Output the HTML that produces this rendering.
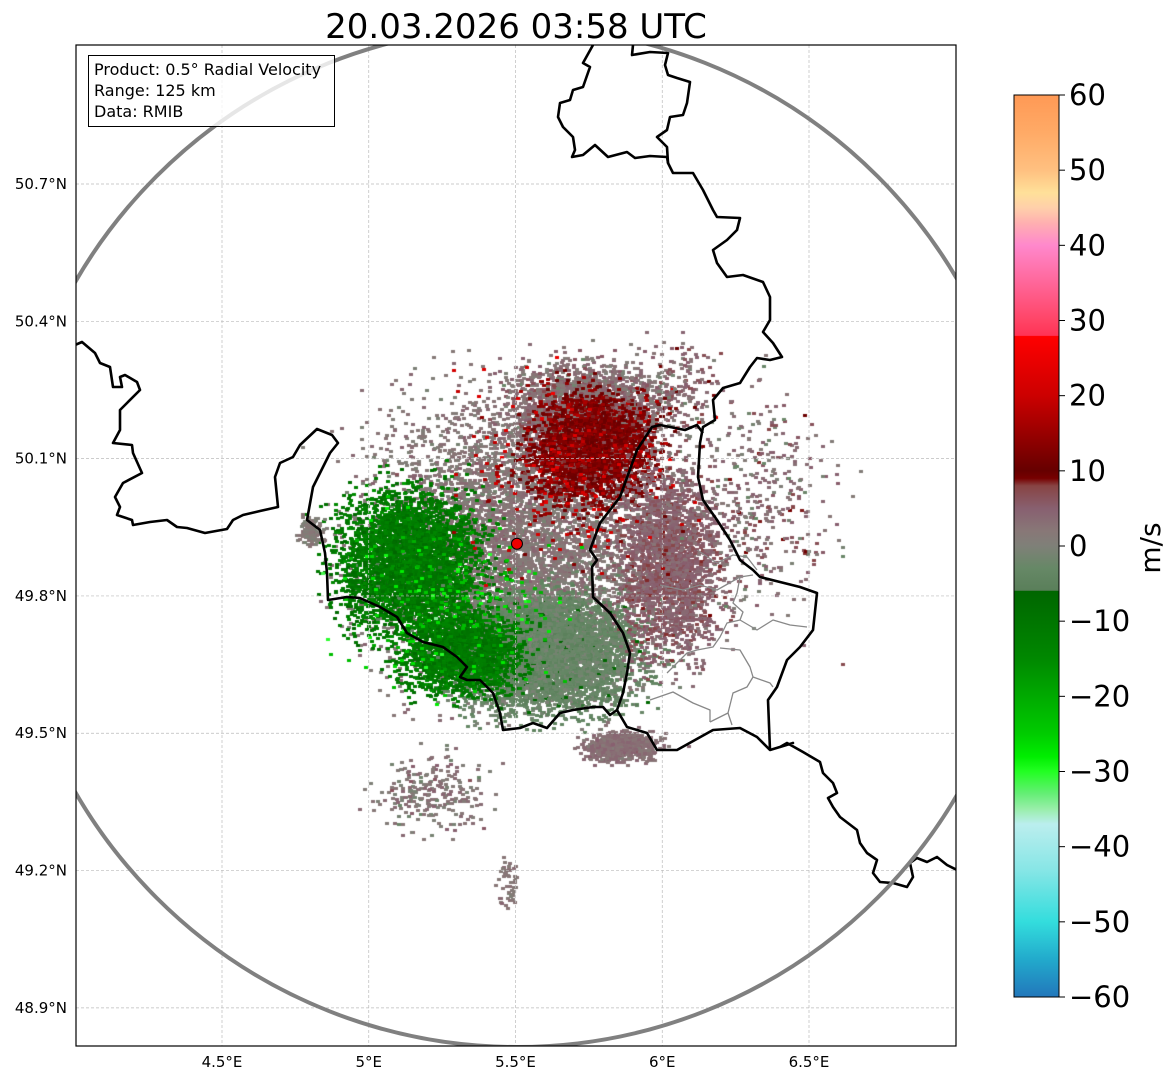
<!DOCTYPE html>
<html><head><meta charset="utf-8">
<style>
html,body{margin:0;padding:0;background:#fff;}
body{width:1171px;height:1081px;position:relative;overflow:hidden;font-family:"DejaVu Sans","Liberation Sans",sans-serif;}
#radar{position:absolute;left:0;top:0;}
svg{position:absolute;left:0;top:0;}
</style></head>
<body>
<canvas id="radar" width="1171" height="1081"></canvas>
<svg id="ov" width="1171" height="1081"></svg>
<script>
// ---- chart data ----
const lonTicks = [4.5, 5.0, 5.5, 6.0, 6.5];
const lonLabels = ["4.5°E", "5°E", "5.5°E", "6°E", "6.5°E"];
const latTicks = [48.9, 49.2, 49.5, 49.8, 50.1, 50.4, 50.7];
const latLabels = ["48.9°N", "49.2°N", "49.5°N", "49.8°N", "50.1°N", "50.4°N", "50.7°N"];
const cbTicks = [-60, -50, -40, -30, -20, -10, 0, 10, 20, 30, 40, 50, 60];
const cbLabels = ["−60", "−50", "−40", "−30", "−20", "−10", "0", "10", "20", "30", "40", "50", "60"];
// echo clusters: centre, spread (deg), pixel count, mean radial velocity (m/s), velocity spread
const clusterLon = [5.510, 5.600, 5.753, 5.753, 5.140, 5.310, 6.026, 5.856, 6.333, 5.208, 5.464, 4.800, 5.276, 5.685, 6.060];
const clusterLat = [49.920, 49.682, 50.206, 50.130, 49.878, 49.682, 49.878, 49.474, 50.010, 49.376, 49.179, 49.944, 49.791, 50.075, 50.272];
const clusterSx  = [0.50, 0.31, 0.27, 0.20, 0.24, 0.20, 0.17, 0.12, 0.24, 0.18, 0.034, 0.04, 0.37, 0.37, 0.14];
const clusterSy  = [0.30, 0.13, 0.10, 0.12, 0.15, 0.09, 0.20, 0.033, 0.24, 0.09, 0.055, 0.033, 0.17, 0.20, 0.09];
const clusterN   = [15000, 5000, 2500, 2500, 3800, 2000, 2500, 700, 400, 250, 50, 120, 200, 250, 150];
const clusterVel = [2, -3, 3, 12, -11, -11, 5, 3, 3, 2, 2, 1, -24, 18, 4];
const clusterJit = [1.5, 1.5, 2, 2.5, 2.5, 2.5, 1.5, 1, 3, 2, 1, 1, 4, 4, 3];
const radarLon = 5.505, radarLat = 49.914;
// colormap stops (value, colour)
const cmapVals = [-60,-55,-50,-43,-37,-35,-33,-30,-28,-25,-20,-15,-6,-5.9,-3,0,2,5,8,9,10,15,20,27.9,28,30,35,40,43,45,47,50,55,60];
const cmapCols = ["#2277bb","#22aacc","#33dddd","#88e6e6","#bbeeee","#99eeaa","#66ee77","#22ff22","#00ee00","#00cc00","#00aa00","#008800","#006600","#5a7f5a","#668866","#7f8078","#887777","#886070","#884444","#770000","#660000","#990000","#cc0000","#ff0000","#ff3355","#ff4466","#ff6699","#ff88cc","#ffb0b0","#ffd0aa","#ffe099","#ffc080","#ffaa66","#ff9955"];

// ---- axes ----
const PL=76, PR=956, PT=45, PB=1046;
const xOf = lon => 75.25 + (lon-4.0)*293.5;
const yOf = lat => 184 + (50.7-lat)*457.7;
const CBT=95, CBB=997, CBL=1014, CBR=1059;
const cbY = v => CBB - (v+60)/120*(CBB-CBT);

function hex(c){return [parseInt(c.substr(1,2),16),parseInt(c.substr(3,2),16),parseInt(c.substr(5,2),16)];}
function colorOf(v){
  if(v<=cmapVals[0]) return cmapCols[0];
  for(let i=1;i<cmapVals.length;i++){
    if(v<=cmapVals[i]){
      const t=(v-cmapVals[i-1])/(cmapVals[i]-cmapVals[i-1]);
      const a=hex(cmapCols[i-1]), b=hex(cmapCols[i]);
      return "rgb("+a.map((x,k)=>Math.round(x+(b[k]-x)*t)).join(",")+")";
    }
  }
  return cmapCols[cmapCols.length-1];
}

// ---- radar speckle (deterministic texture) ----
const cv=document.getElementById('radar'), ctx=cv.getContext('2d');
let seed=12345;
function rnd(){seed=(seed*1103515245+12345)&0x7fffffff;return seed/0x7fffffff;}
function gau(){return (rnd()+rnd()+rnd()+rnd()-2)*1.7;}
ctx.save();ctx.beginPath();ctx.rect(PL,PT,PR-PL,PB-PT);ctx.clip();
for(let c=0;c<clusterLon.length;c++){
  for(let i=0;i<clusterN[c];i++){
    const lon=clusterLon[c]+gau()*clusterSx[c]*0.5;
    const lat=clusterLat[c]+gau()*clusterSy[c]*0.5;
    const v=clusterVel[c]+gau()*clusterJit[c];
    ctx.fillStyle=colorOf(v);
    ctx.fillRect(Math.round(xOf(lon)),Math.round(yOf(lat)),4,3);
  }
}
ctx.restore();

// ---- SVG overlay ----
const NS="http://www.w3.org/2000/svg";
const svg=document.getElementById('ov');
function mk(tag,attrs,parent){const e=document.createElementNS(NS,tag);for(const k in attrs)e.setAttribute(k,attrs[k]);(parent||svg).appendChild(e);return e;}
const defs=mk('defs',{});
const cp=mk('clipPath',{id:'pc'},defs);mk('rect',{x:PL,y:PT,width:PR-PL,height:PB-PT},cp);
const lg=mk('linearGradient',{id:'cbg',x1:0,y1:1,x2:0,y2:0},defs);
for(let i=0;i<cmapVals.length;i++){mk('stop',{offset:((cmapVals[i]+60)/120).toFixed(4),'stop-color':cmapCols[i]},lg);}

// gridlines
const grid=mk('g',{stroke:'#bbb','stroke-width':0.7,'stroke-dasharray':'3,2'});


lonTicks.forEach(l=>{const x=xOf(l);mk('line',{x1:x,y1:PT,x2:x,y2:PB},grid);});
latTicks.forEach(l=>{const y=yOf(l);mk('line',{x1:PL,y1:y,x2:PR,y2:y},grid);});

const mapG=mk('g',{'clip-path':'url(#pc)',fill:'none'});


function pl(pts,stroke,w,name){const e=mk('polyline',{points:pts,stroke:stroke,'stroke-width':w,'stroke-linejoin':'round'},mapG);return e;}
const gray=[
"697,550 717,563 733,555 747,557 757,570",
"660,585 683,590 700,585 717,590 740,577 753,575",
"740,577 737,593 733,603 743,612 740,620 727,623 720,637 713,647 697,650 687,653 677,663 667,673",
"740,620 757,630 773,620 790,625 807,627",
"720,648 740,650 750,667 753,677 770,683 773,687",
"753,677 747,687 733,693 728,713 710,722",
"728,713 732,725",
"650,700 673,692 693,703 710,710 710,722"];
gray.forEach((p,i)=>pl(p,'#888',1.3,'canton-border-'+i));
pl("75,345 82,342 95,353 100,363 110,367 113,387 122,387 120,377 125,375 137,382 140,390 127,403 120,410 120,430 113,443 132,445 133,453 142,473 123,483 115,497 120,507 117,515 132,520 133,525 150,522 167,520 177,527 187,528 205,533 227,529 233,520 243,515 260,511 278,507 275,477 280,463 293,457 300,445 317,429 332,435 338,443 330,453 323,467 313,487 307,520 320,530 325,553 327,573 328,600 347,597 360,598 380,607 397,617 407,633 423,642 443,647 457,657 467,667 460,677 467,680 480,680 493,693 500,713 503,730 520,728 533,723 547,728 560,713 573,710 593,707 603,707 610,715 617,710 627,727 647,733 657,750 677,750 713,730 740,728 757,737 770,750 793,743 780,747 787,743 803,752 820,762 823,773 833,783 837,793 828,798 833,807 840,817 857,830 860,843 867,853 877,860 873,873 880,882 893,883 907,887 913,877 910,863 917,858 927,862 937,857 947,865 957,870",'#000',2.6,'france-border');
pl("770,750 768,700 777,687 787,660 800,647 813,630 817,593 800,587 780,582 760,577 753,570 740,560 730,540 717,520 703,500 698,477 700,443 703,427 715,420 713,400 723,388 740,383 750,367 757,358 770,360 782,357 773,343 763,332 770,320 770,297 763,282 743,275 727,277 717,263 713,250 727,240 737,230 740,218 717,217 713,210 703,190 693,173 673,173 668,163 667,157 650,156 635,158 627,152 608,157 595,145 583,155 572,157 575,150 573,137 563,127 558,117 560,103 570,100 573,90 583,87 590,67 583,63 593,45",'#000',2.6,'germany-border');
pl("668,163 667,147 657,137 667,130 670,117 683,115 687,103 690,82 677,78 668,75 665,65 668,53 650,52 632,55 633,45",'#000',2.6,'netherlands-border');
pl("703,433 697,425 685,430 660,425 652,427 637,450 620,497 600,523 590,550 597,560 592,567 593,597 610,613 623,633 630,653 627,673 623,693 617,710",'#000',2.6,'luxembourg-border');
const ring=mk('circle',{cx:517,cy:537,r:510,fill:'none',stroke:'#808080','stroke-width':4},mapG);


const site=mk('circle',{cx:xOf(radarLon),cy:yOf(radarLat),r:5.5,fill:'#ee0000',stroke:'#000','stroke-width':1});



const fr=mk('rect',{x:PL,y:PT,width:PR-PL,height:PB-PT,fill:'none',stroke:'#000','stroke-width':1.2});



lonTicks.forEach((l,i)=>{const t=mk('text',{x:xOf(l),y:1067,'text-anchor':'middle','font-size':15,fill:'#000'});t.textContent=lonLabels[i];

});
latTicks.forEach((l,i)=>{const t=mk('text',{x:67,y:yOf(l)+5,'text-anchor':'end','font-size':15,fill:'#000'});t.textContent=latLabels[i];

});

const ti=mk('text',{x:516,y:38,'text-anchor':'middle','font-size':34,fill:'#000'});ti.textContent="20.03.2026 03:58 UTC";



const ib=mk('g',{});


mk('rect',{x:88.5,y:55.5,width:246,height:71,fill:'rgba(255,255,255,0.8)',stroke:'#000','stroke-width':1},ib);
["Product: 0.5° Radial Velocity","Range: 125 km","Data: RMIB"].forEach((s,i)=>{const t=mk('text',{x:94,y:75+i*21,'font-size':16,fill:'#000'},ib);t.textContent=s;});

const cb=mk('g',{});


mk('rect',{x:CBL,y:CBT,width:CBR-CBL,height:CBB-CBT,fill:'url(#cbg)',stroke:'#000','stroke-width':1},cb);
cbTicks.forEach((v,i)=>{const y=cbY(v);mk('line',{x1:CBR,y1:y,x2:CBR+6,y2:y,stroke:'#000','stroke-width':1},cb);
const t=mk('text',{x:CBR+10,y:y+10,'font-size':29,fill:'#000'},cb);t.textContent=cbLabels[i];});
const ul=mk('text',{x:1160,y:548,'text-anchor':'middle','font-size':28,fill:'#000',transform:'rotate(-90 1160 548)'});ul.textContent="m/s";


</script>
</body></html>
